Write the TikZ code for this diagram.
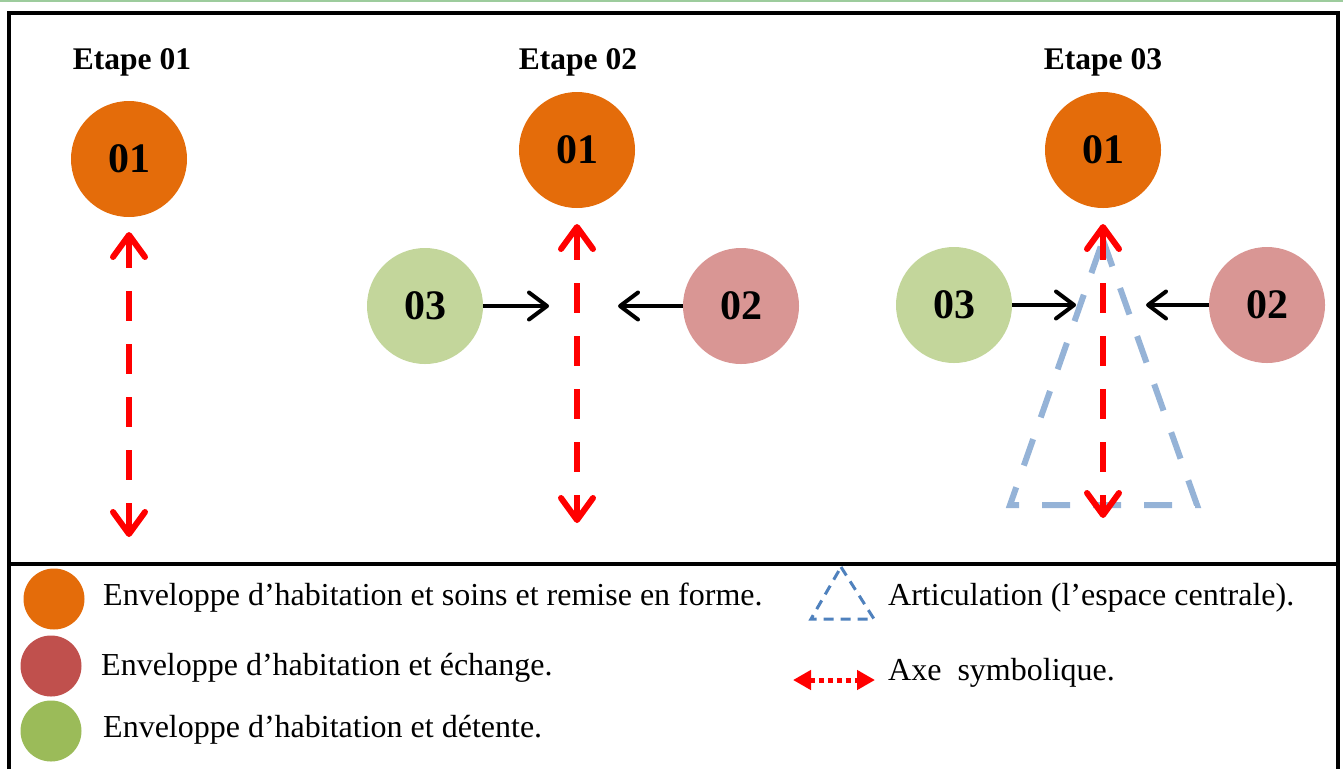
\documentclass[tikz,border=0pt]{standalone}
\usepackage{fontspec}
\setmainfont{Liberation Serif}
\usetikzlibrary{arrows.meta}
\definecolor{habsoin}{HTML}{E46C0A}
\definecolor{habech}{HTML}{D99694}
\definecolor{habdet}{HTML}{C3D69B}
\definecolor{legech}{HTML}{C0504D}
\definecolor{legdet}{HTML}{9BBB59}
\definecolor{axered}{HTML}{FF0000}
\definecolor{articblue}{HTML}{95B3D7}
\definecolor{articleg}{HTML}{4F81BD}
\definecolor{topline}{HTML}{9DCC9D}

\begin{document}
\begin{tikzpicture}[x=1pt, y=-1pt,
  env/.style={circle, minimum size=116pt, inner sep=0pt, outer sep=0pt,
              font=\fontsize{42}{42}\selectfont\bfseries},
  legdot/.style={circle, minimum size=61pt, inner sep=0pt, outer sep=0pt},
  title/.style={anchor=base, inner sep=0pt, font=\fontsize{31.5}{36}\selectfont\bfseries},
  legtext/.style={anchor=base west, inner sep=0pt, font=\fontsize{32}{36}\selectfont},
  axe/.style={line width=6pt, color=axered, dash pattern=on 30pt off 23pt,
              arrows={Straight Barb[length=22pt, width=32pt, line cap=round, line join=round]-Straight Barb[length=22pt, width=32pt, line cap=round, line join=round]}},
  push/.style={line width=4pt,
               arrows={-Straight Barb[length=18pt, width=27pt, line cap=round, line join=round]}},
  artic/.style={line width=6pt, color=articblue, dash pattern=on 28pt off 23pt},
  frame/.style={line width=4pt}
]
\useasboundingbox (0,0) rectangle (1343,769);

% frame and separator
\draw[topline, line width=1.5pt] (0,0.8) -- (1343,0.8);
\draw[frame] (9,769) |- (1338,13) -- (1338,769);
\draw[frame] (9,564) -- (1338,564);

% Etape 01
\node[title] (t1) at (132,69) {Etape 01};
\node[env, fill=habsoin] (et1-01) at (129,159) {01};
\coordinate (ax1-end) at (129,537);
\draw[axe, shorten <=15pt] (et1-01) -- (ax1-end);

% Etape 02
\node[title] (t2) at (578,69) {Etape 02};
\node[env, fill=habsoin] (et2-01) at (577,150) {01};
\node[env, fill=habdet] (et2-03) at (425,306) {03};
\node[env, fill=habech] (et2-02) at (741,306) {02};
\coordinate (ax2-end) at (577,523);
\coordinate (in2-l) at (549,306);
\coordinate (in2-r) at (618,306);
\draw[axe, shorten <=16pt] (et2-01) -- (ax2-end);
\draw[push] (et2-03) -- (in2-l);
\draw[push] (et2-02) -- (in2-r);

% Etape 03
\node[title] (t3) at (1103,69) {Etape 03};
\node[env, fill=habsoin] (et3-01) at (1103,150) {01};
\node[env, fill=habdet] (et3-03) at (954,305) {03};
\node[env, fill=habech] (et3-02) at (1267,305) {02};
\draw[artic] (1103,240) -- (1197,505) -- (1010,505) -- cycle;
\coordinate (ax3-end) at (1103,518);
\coordinate (in3-l) at (1076,305);
\coordinate (in3-r) at (1146,305);
\draw[axe, shorten <=16pt] (et3-01) -- (ax3-end);
\draw[push] (et3-03) -- (in3-l);
\draw[push] (et3-02) -- (in3-r);

% legend
\node[legdot, fill=habsoin] (lg1) at (54,599) {};
\node[legdot, fill=legech] (lg2) at (51,666) {};
\node[legdot, fill=legdet] (lg3) at (51,731) {};
\node[legtext] (lt1) at (103,605) {Enveloppe d’habitation et soins et remise en forme.};
\node[legtext] (lt2) at (101,675) {Enveloppe d’habitation et échange.};
\node[legtext] (lt3) at (103,737) {Enveloppe d’habitation et détente.};

\draw[articleg, line width=3pt, dash pattern=on 10pt off 7pt]
  (841,567) -- (874,619) -- (811,619) -- cycle;
\node[legtext] (lt4) at (888,605) {Articulation (l’espace centrale).};

\coordinate (lgax-l) at (793,680);
\coordinate (lgax-r) at (875,680);
\draw[axered, line width=5pt, dash pattern=on 5pt off 4pt,
      arrows={Triangle[length=18pt, width=19pt]-Triangle[length=18pt, width=19pt]}]
  (lgax-l) -- (lgax-r);
\node[legtext] (lt5) at (888,680) {Axe \ symbolique.};

\end{tikzpicture}
\end{document}
